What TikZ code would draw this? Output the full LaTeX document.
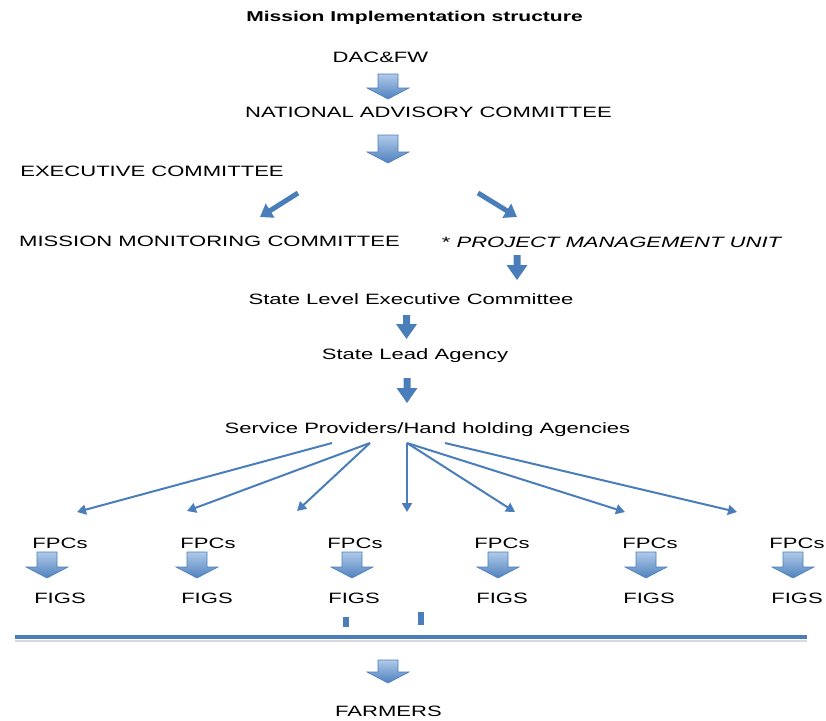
\documentclass[tikz,border=0pt]{standalone}
\usepackage{fontspec}
\setmainfont{Liberation Sans}
\newfontfamily\lab{Liberation Sans}[FakeStretch=1.47]
\usetikzlibrary{arrows.meta}
\definecolor{ablue}{RGB}{74,126,187}
\definecolor{atop}{RGB}{176,202,234}
\definecolor{abot}{RGB}{79,129,189}
\newcommand{\garrow}[3]{%
  \shade[top color=atop, bottom color=abot, draw=ablue, line width=0.6pt]
  (#1-10,#2) -- (#1+10,#2) -- (#1+10,#3-11) -- (#1+21,#3-11) -- (#1,#3)
  -- (#1-21,#3-11) -- (#1-10,#3-11) -- cycle;}
\newcommand{\sarrow}[3]{%
  \fill[ablue] (#1-3.5,#2) -- (#1+3.5,#2) -- (#1+3.5,#3-15) -- (#1+10.5,#3-15)
  -- (#1,#3) -- (#1-10.5,#3-15) -- (#1-3.5,#3-15) -- cycle;}
\tikzset{
  lbl/.style={font=\lab\fontsize{15}{18}\selectfont, inner sep=0pt, text=black},
  ttl/.style={font=\lab\bfseries\fontsize{14.3}{17}\selectfont, inner sep=0pt, text=black},
  thinarr/.style={draw=ablue, line width=2pt, -{Triangle[width=10pt,length=9pt]}},
  fatarr/.style={draw=ablue, line width=5pt, -{Triangle[width=16pt,length=12pt]}},
}
\begin{document}
\begin{tikzpicture}[x=1pt, y=-1pt]
\useasboundingbox (0,0) rectangle (826,720);
% texts
\node[ttl] (title) at (414.5,18) {Mission Implementation structure};
\node[lbl] (dac) at (380.5,57) {DAC\&FW};
\node[lbl] (nac) at (428.5,112) {NATIONAL ADVISORY COMMITTEE};
\node[lbl] (exec) at (152,171) {EXECUTIVE COMMITTEE};
\node[lbl] (mmc) at (209.5,241) {MISSION MONITORING COMMITTEE};
\node[lbl] (pmu) at (611.5,242) {* {\itshape PROJECT MANAGEMENT UNIT}};
\node[lbl] (slec) at (411,299) {State Level Executive Committee};
\node[lbl] (sla) at (415,356) {State Lead Agency};
\node[lbl] (sp) at (427.5,430) {Service Providers/Hand holding Agencies};
\foreach \i/\xa/\xb in {1/60/60, 2/208/207, 3/355/354, 4/502/502, 5/650/649, 6/797/797}{
  \node[lbl] (fpc\i) at (\xa,543) {FPCs};
  \node[lbl] (figs\i) at (\xb,598) {FIGS};
}
\node[lbl] (farm) at (388.5,711.5) {FARMERS};
% block arrows
\garrow{388}{74}{99}
\garrow{388}{135}{163}
\foreach \xa in {47,197,352,498,646,793}{\garrow{\xa}{552}{578}}
\garrow{388}{660}{683}
% small solid arrows
\sarrow{517}{255}{280}
\sarrow{406.5}{315}{339}
\sarrow{407}{378}{403}
% diagonal arrows from executive committee
\coordinate (dl1) at (298,193); \coordinate (dl2) at (260,217);
\coordinate (dr1) at (478,193); \coordinate (dr2) at (517,217);
\draw[fatarr] (dl1) -- (dl2);
\draw[fatarr] (dr1) -- (dr2);
% fan of thin arrows
\coordinate (s1) at (332,443);
\coordinate (s2) at (370,443);
\coordinate (s3) at (407,443);
\coordinate (s4) at (445,443);
\coordinate (t1) at (77,512);
\coordinate (t2) at (187,511);
\coordinate (t3) at (297,511);
\coordinate (t4) at (407,512);
\coordinate (t5) at (515,512);
\coordinate (t6) at (625,512);
\coordinate (t7) at (737,512);
\draw[thinarr] (s1) -- (t1);
\draw[thinarr] (s2) -- (t2);
\draw[thinarr] (s2) -- (t3);
\draw[thinarr] (s3) -- (t4);
\draw[thinarr] (s3) -- (t5);
\draw[thinarr] (s3) -- (t6);
\draw[thinarr] (s4) -- (t7);
% bars and rule
\fill[ablue] (343,617) rectangle (349,627);
\fill[ablue] (418,612) rectangle (424,625);
\draw[gray!30, line width=2pt] (15,641) -- (807,641);
\draw[ablue, line width=4.5pt] (15,637) -- (807,637);
\end{tikzpicture}
\end{document}
